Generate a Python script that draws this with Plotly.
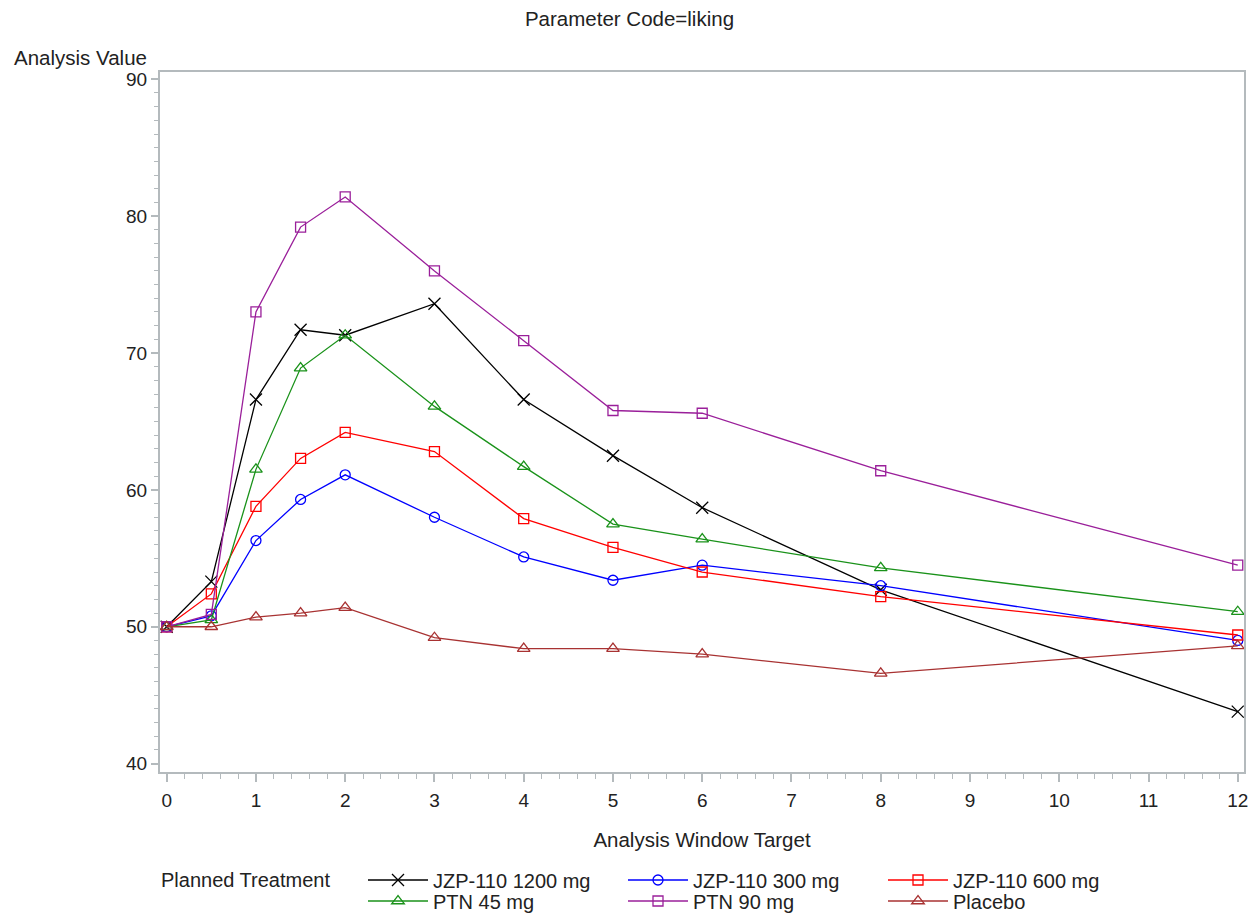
import plotly.graph_objects as go

x_vals = [0, 0.5, 1, 1.5, 2, 3, 4, 5, 6, 8, 12]

jzp_1200 = [50.0, 53.3, 66.6, 71.7, 71.3, 73.6, 66.6, 62.5, 58.7, 52.7, 43.8]
jzp_300 = [50.0, 50.8, 56.3, 59.3, 61.1, 58.0, 55.1, 53.4, 54.5, 53.0, 49.0]
jzp_600 = [50.0, 52.4, 58.8, 62.3, 64.2, 62.8, 57.9, 55.8, 54.0, 52.2, 49.4]
ptn_45 = [50.0, 50.5, 61.5, 68.9, 71.3, 66.1, 61.7, 57.5, 56.4, 54.3, 51.1]
ptn_90 = [50.0, 50.9, 73.0, 79.2, 81.4, 76.0, 70.9, 65.8, 65.6, 61.4, 54.5]
placebo = [50.0, 50.0, 50.7, 51.0, 51.4, 49.2, 48.4, 48.4, 48.0, 46.6, 48.6]

series_names = ["JZP-110 1200 mg", "JZP-110 300 mg", "JZP-110 600 mg",
                "PTN 45 mg", "PTN 90 mg", "Placebo"]
series_values = [jzp_1200, jzp_300, jzp_600, ptn_45, ptn_90, placebo]
series_colors = ["#000000", "#0000ff", "#ff0000", "#1a921a", "#9a1f9a", "#a83232"]
series_symbols = ["x-thin-open", "circle-open", "square-open",
                  "triangle-up-open", "square-open", "triangle-up-open"]
series_sizes = [12, 10, 10, 11, 10, 11]
series_legend = ["legend", "legend", "legend", "legend2", "legend2", "legend2"]

x_ticks = list(range(0, 13))
y_ticks = [40, 50, 60, 70, 80, 90]

W, H = 1259, 915
L, R, T, B = 160, 11, 72, 143
PW, PH = W - L - R, H - T - B

FONT = "Liberation Sans, Arial, sans-serif"
TXT = "#222222"
AXC = "#b4babd"

fig = go.Figure()
for name, vals, col, sym, sz, lg in zip(series_names, series_values, series_colors,
                                        series_symbols, series_sizes, series_legend):
    fig.add_trace(go.Scatter(
        x=x_vals, y=vals, name=name, mode="lines+markers", legend=lg,
        line=dict(color=col, width=1.3),
        marker=dict(symbol=sym, size=sz, color=col, line=dict(color=col, width=1.3)),
    ))

leg_common = dict(
    orientation="h", xref="container", xanchor="left", yref="container",
    yanchor="middle", font=dict(size=20, color=TXT),
    entrywidth=185, entrywidthmode="pixels", itemwidth=60,
    tracegroupgap=0, bgcolor="rgba(0,0,0,0)", borderwidth=0,
)

fig.update_layout(
    width=W, height=H,
    paper_bgcolor="white", plot_bgcolor="white",
    margin=dict(l=L, r=R, t=T, b=B),
    font=dict(family=FONT, size=20, color=TXT),
    title=dict(text="Parameter Code=liking", x=0.5, xref="container", xanchor="center",
               y=1 - 19 / H, yref="container", yanchor="middle",
               font=dict(size=20.5, color=TXT)),
    xaxis=dict(
        range=[-0.075, 12.07], tickvals=x_ticks, ticktext=[str(v) for v in x_ticks],
        showgrid=False, zeroline=False,
        showline=True, linecolor=AXC, linewidth=2, mirror=True,
        ticks="outside", ticklen=8, tickwidth=1.5, tickcolor=AXC,
        tickfont=dict(size=19, color=TXT), ticklabelstandoff=2,
        minor=dict(dtick=0.2, tick0=0, ticks="outside", ticklen=5, tickwidth=1.2,
                   tickcolor=AXC, showgrid=False),
        title=dict(text="Analysis Window Target", font=dict(size=20.5, color=TXT), standoff=23),
    ),
    yaxis=dict(
        range=[39.39, 90.53], tickvals=y_ticks, ticktext=[str(v) for v in y_ticks],
        showgrid=False, zeroline=False,
        showline=True, linecolor=AXC, linewidth=2, mirror=True,
        ticks="outside", ticklen=7, tickwidth=1.5, tickcolor=AXC,
        tickfont=dict(size=19, color=TXT), ticklabelstandoff=0,
        minor=dict(dtick=1, tick0=40, ticks="outside", ticklen=4, tickwidth=1.2,
                   tickcolor=AXC, showgrid=False),
    ),
    legend=dict(x=363 / W, y=1 - 880 / H, **leg_common),
    legend2=dict(x=363 / W, y=1 - 901 / H, **leg_common),
    annotations=[
        dict(text="Analysis Value", xref="paper", x=(11 - L) / PW, xanchor="left",
             yref="paper", y=(T + PH - 57) / PH, yanchor="middle",
             showarrow=False, font=dict(size=20.5, color=TXT)),
        dict(text="Planned Treatment", xref="paper", x=(159 - L) / PW, xanchor="left",
             yref="paper", y=(T + PH - 880) / PH, yanchor="middle",
             showarrow=False, font=dict(size=20, color=TXT)),
    ],
)

fig.write_html("out.html", config={"displayModeBar": False},
               post_script="document.body.style.margin='0';document.body.style.overflow='hidden';")
